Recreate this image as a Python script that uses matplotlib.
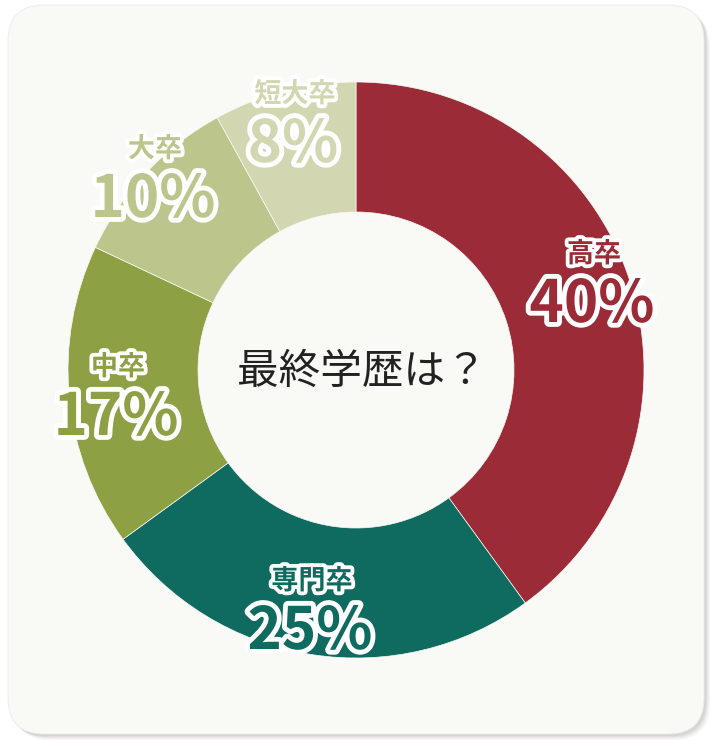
import matplotlib
matplotlib.use("Agg")
import matplotlib.pyplot as plt
import matplotlib.patheffects as pe
from matplotlib.patches import FancyBboxPatch

plt.rcParams['font.family'] = ['Noto Sans CJK JP', 'DejaVu Sans']

# data
labels = ["高卒", "専門卒", "中卒", "大卒", "短大卒"]
values = [40, 25, 17, 10, 8]
colors = ["#9B2B36", "#0F6B5F", "#8EA044", "#BCC68C", "#D2D7B2"]
# label positions (pixels from top-left), name then percent
label_pos = [(594, 254), (312, 581), (118, 367), (155, 149), (295, 94)]

W, H = 719, 748
fig = plt.figure(figsize=(W / 100, H / 100), dpi=100)
fig.patch.set_facecolor("white")
ax = fig.add_axes([0, 0, 1, 1])
ax.set_xlim(0, W)
ax.set_ylim(0, H)
ax.axis("off")

card_bg = "#F9F9F5"

# shadow + card
for i, a in enumerate([0.05, 0.07, 0.09, 0.11]):
    off = 6 - i * 1.2
    sh = FancyBboxPatch((8 + off, H - 734 - off), 696, 729,
                        boxstyle="round,pad=0,rounding_size=36",
                        fc="#7a6f6f", ec="none", alpha=a, zorder=1)
    ax.add_patch(sh)
card = FancyBboxPatch((8, H - 734), 696, 729,
                      boxstyle="round,pad=0,rounding_size=36",
                      fc=card_bg, ec="#ecece6", lw=0.6, zorder=2)
ax.add_patch(card)

# donut
cx, cy = 356, H - 370
R, r_in = 288, 158
wedges, _ = ax.pie(values, colors=colors, startangle=90, counterclock=False,
                   center=(cx, cy), radius=R,
                   wedgeprops=dict(width=R - r_in, edgecolor=card_bg, linewidth=0.5))
for w in wedges:
    w.set_zorder(3)
ax.set_xlim(0, W)
ax.set_ylim(0, H)
ax.set_aspect("equal")

ax.text(cx + 6, cy - 2, "最終学歴は？", ha="center", va="center", fontsize=30,
        color="#222222", zorder=5)

for lab, val, col, (x, y) in zip(labels, values, colors, label_pos):
    ax.text(x, H - y, lab, ha="center", va="center", fontsize=19.5, fontweight="bold",
            color=col, zorder=6,
            path_effects=[pe.withStroke(linewidth=5.5, foreground="white")])
    ax.text(x - 2, H - y - 51, f"{val}%", ha="center", va="center", fontsize=42,
            fontweight="bold", color=col, zorder=6,
            path_effects=[pe.withStroke(linewidth=7, foreground="white")])

fig.savefig("out.png", dpi=100)
